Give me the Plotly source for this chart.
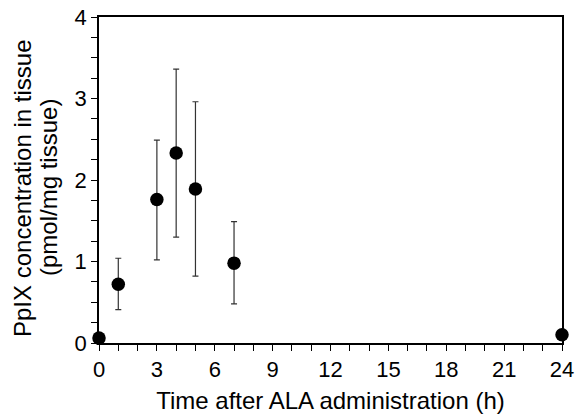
import plotly.graph_objects as go

time_h = [0, 1, 3, 4, 5, 7, 24]
ppix = [0.06, 0.72, 1.76, 2.33, 1.89, 0.98, 0.10]
err_upper = [0.0, 0.32, 0.73, 1.03, 1.07, 0.51, 0.0]
err_lower = [0.0, 0.31, 0.74, 1.03, 1.07, 0.50, 0.0]

x_ticks = [0, 3, 6, 9, 12, 15, 18, 21, 24]
y_ticks = [0, 1, 2, 3, 4]

x_title = "Time after ALA administration (h)"
y_title_lines = ["PpIX concentration in tissue", "(pmol/mg tissue)"]

fig = go.Figure()
fig.add_trace(go.Scatter(
    x=time_h, y=ppix, mode="markers",
    marker=dict(color="black", size=13.5),
    error_y=dict(type="data", symmetric=False, array=err_upper, arrayminus=err_lower,
                 color="#333333", thickness=1.2, width=3),
    cliponaxis=False,
    showlegend=False,
))

font = "Liberation Sans, Arial, sans-serif"
fig.update_layout(
    width=575, height=414,
    margin=dict(l=99, r=13, t=17, b=71),
    paper_bgcolor="white", plot_bgcolor="white",
    font=dict(family=font, color="black", size=22),
    xaxis=dict(
        range=[0, 24], tickmode="array", tickvals=x_ticks,
        ticks="outside", ticklen=6, tickwidth=1.3, tickcolor="black",
        showline=True, linecolor="black", linewidth=1.5, mirror=True,
        showgrid=False, zeroline=False, automargin=False,
        minor=dict(dtick=1, ticks="outside", ticklen=6, tickwidth=1.3, tickcolor="black"),
        tickfont=dict(size=22),
        title=dict(text=x_title, font=dict(size=24), standoff=12),
    ),
    yaxis=dict(
        range=[0, 4], tickmode="array", tickvals=y_ticks,
        ticks="outside", ticklen=6, tickwidth=1.3, tickcolor="black",
        showline=True, linecolor="black", linewidth=1.5, mirror=True,
        showgrid=False, zeroline=False, automargin=False,
        minor=dict(dtick=0.25, ticks="outside", ticklen=6, tickwidth=1.3, tickcolor="black"),
        tickfont=dict(size=22),
    ),
)

for line, shift in zip(y_title_lines, [-77, -51]):
    fig.add_annotation(
        text=line, xref="paper", yref="paper", x=0, y=0.5,
        xanchor="center", yanchor="middle", xshift=shift, yshift=-8,
        textangle=-90, showarrow=False, font=dict(size=24, family=font, color="black"),
    )

fig.write_html("out.html", post_script="document.body.style.margin='0';",
               config={"displayModeBar": False})
